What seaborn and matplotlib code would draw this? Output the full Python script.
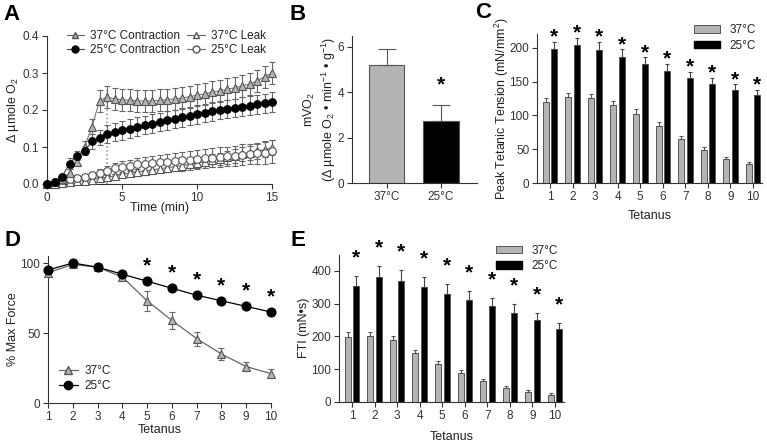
import numpy as np
import pandas as pd
import matplotlib
matplotlib.use("Agg")
import matplotlib.pyplot as plt
import seaborn as sns
from matplotlib.lines import Line2D
from matplotlib.patches import Patch

# ---- Panel A: delta umole O2 vs time ----
time_min = np.arange(0, 15.5, 0.5)
c37_contr = [0.000, 0.005, 0.013, 0.030, 0.060, 0.100, 0.155, 0.225, 0.235, 0.230, 0.228,
             0.226, 0.225, 0.224, 0.225, 0.226, 0.228, 0.230, 0.232, 0.236, 0.240, 0.243,
             0.248, 0.252, 0.256, 0.260, 0.265, 0.270, 0.278, 0.290, 0.300]
c37_contr_err = [0.000, 0.003, 0.005, 0.010, 0.012, 0.015, 0.020, 0.030, 0.030, 0.030, 0.030,
                 0.030, 0.030, 0.030, 0.030, 0.030, 0.030, 0.030, 0.030, 0.030, 0.030, 0.030,
                 0.030, 0.030, 0.030, 0.030, 0.030, 0.030, 0.030, 0.030, 0.030]
c25_contr = [0.000, 0.005, 0.020, 0.055, 0.077, 0.090, 0.115, 0.125, 0.135, 0.140, 0.145,
             0.150, 0.155, 0.160, 0.163, 0.167, 0.172, 0.176, 0.180, 0.184, 0.188, 0.192,
             0.196, 0.200, 0.203, 0.206, 0.209, 0.212, 0.215, 0.218, 0.222]
c25_contr_err = [0.000, 0.003, 0.006, 0.015, 0.012, 0.012, 0.020, 0.020, 0.025, 0.025, 0.025,
                 0.025, 0.025, 0.025, 0.025, 0.025, 0.025, 0.025, 0.025, 0.025, 0.025, 0.025,
                 0.025, 0.025, 0.025, 0.025, 0.025, 0.025, 0.025, 0.025, 0.028]
c37_leak = [0.000, 0.001, 0.003, 0.005, 0.007, 0.009, 0.012, 0.015, 0.018, 0.022, 0.026,
            0.029, 0.032, 0.035, 0.038, 0.041, 0.044, 0.047, 0.050, 0.053, 0.056, 0.060,
            0.064, 0.068, 0.072, 0.076, 0.080, 0.084, 0.088, 0.093, 0.098]
c37_leak_err = [0.000, 0.001, 0.002, 0.002, 0.003, 0.003, 0.004, 0.005, 0.005, 0.006, 0.007,
                0.008, 0.009, 0.010, 0.011, 0.012, 0.012, 0.013, 0.014, 0.015, 0.015, 0.016,
                0.017, 0.017, 0.018, 0.018, 0.019, 0.019, 0.020, 0.020, 0.020]
c25_leak = [0.000, 0.005, 0.010, 0.013, 0.017, 0.020, 0.024, 0.030, 0.036, 0.042, 0.046,
            0.050, 0.053, 0.055, 0.057, 0.059, 0.060, 0.062, 0.064, 0.066, 0.067, 0.069,
            0.071, 0.073, 0.075, 0.077, 0.079, 0.081, 0.083, 0.085, 0.088]
c25_leak_err = [0.000, 0.002, 0.004, 0.005, 0.006, 0.007, 0.008, 0.010, 0.012, 0.014, 0.015,
                0.016, 0.017, 0.018, 0.019, 0.020, 0.021, 0.022, 0.023, 0.024, 0.024, 0.025,
                0.025, 0.026, 0.026, 0.027, 0.028, 0.028, 0.029, 0.030, 0.030]
stim_end = 4
stim_line_top = 0.255

# ---- Panel B: mVO2 ----
temps = ['37°C', '25°C']
mvo2_mean = [5.2, 2.75]
mvo2_err = [0.7, 0.7]

# ---- Panel C / E: per tetanus ----
tetanus = ['1', '2', '3', '4', '5', '6', '7', '8', '9', '10']
tension_37 = [120, 127, 126, 116, 102, 84, 65, 49, 35, 28]
tension_37_err = [6, 6, 6, 6, 7, 6, 5, 4, 4, 3]
tension_25 = [198, 204, 197, 187, 176, 166, 156, 147, 138, 130]
tension_25_err = [11, 11, 12, 11, 10, 10, 9, 9, 8, 8]

fti_37 = [198, 200, 188, 151, 116, 88, 63, 44, 31, 22]
fti_37_err = [16, 14, 12, 9, 10, 9, 7, 6, 5, 4]
fti_25 = [354, 382, 370, 351, 331, 312, 293, 273, 249, 222]
fti_25_err = [32, 33, 33, 30, 28, 27, 25, 25, 22, 18]

# ---- Panel D: % max force ----
tet_num = [1, 2, 3, 4, 5, 6, 7, 8, 9, 10]
force_37 = [93, 99, 97, 90, 73, 59, 46, 35, 26, 21]
force_37_err = [2, 1, 1, 2, 7, 6, 5, 4, 3, 3]
force_25 = [95, 100, 97, 92, 87, 82, 77, 73, 69, 65]
force_25_err = [1, 1, 1, 1, 1, 1, 1, 1, 1, 1]
sig_D = [False, False, False, False, True, True, True, True, True, True]

GRAY = '#b4b4b4'
EDGE = '#555555'

sns.set_style("ticks")
plt.rcParams['font.family'] = ['Liberation Sans', 'DejaVu Sans']
plt.rcParams.update({
    'mathtext.fontset': 'custom',
    'mathtext.rm': 'Liberation Sans',
    'mathtext.it': 'Liberation Sans:italic',
    'mathtext.bf': 'Liberation Sans:bold',
    'font.size': 8.5,
    'axes.labelsize': 9,
    'xtick.labelsize': 8.5,
    'ytick.labelsize': 8.5,
    'axes.linewidth': 0.8,
    'xtick.major.width': 0.8,
    'ytick.major.width': 0.8,
    'xtick.major.size': 3.5,
    'ytick.major.size': 3.5,
    'xtick.major.pad': 2,
    'ytick.major.pad': 2,
    'axes.edgecolor': '#333333',
    'text.color': '#222222',
    'axes.labelcolor': '#222222',
    'xtick.color': '#333333',
    'ytick.color': '#333333',
})

W, H = 767, 445
fig = plt.figure(figsize=(W / 100, H / 100), dpi=100)


def add_ax(l, r, b, t):
    return fig.add_axes([l / W, 1 - b / H, (r - l) / W, (b - t) / H])


def star(ax, x, y, off):
    ax.annotate('*', xy=(x, y), xytext=(0, off), textcoords='offset points',
                ha='center', va='center', fontsize=15, fontweight='bold',
                color='black', annotation_clip=False)


# ================= A =================
axA = add_ax(47, 272, 184, 36)
series_A = [
    (c37_leak, c37_leak_err, '^', 'white', EDGE, '#666666'),
    (c25_leak, c25_leak_err, 'o', 'white', EDGE, '#666666'),
    (c37_contr, c37_contr_err, '^', GRAY, EDGE, '#777777'),
    (c25_contr, c25_contr_err, 'o', 'black', 'black', '#444444'),
]
for vals, err, mk, fc, ec, lc in series_A:
    axA.errorbar(time_min, vals, yerr=err, fmt='none', ecolor='#666666',
                 elinewidth=0.8, capsize=2.5, capthick=0.8, clip_on=False, zorder=2)
    sns.lineplot(x=time_min, y=vals, ax=axA, color=lc, lw=0.8, marker=mk,
                 markersize=5.5 if mk == 'o' else 6, markerfacecolor=fc,
                 markeredgecolor=ec, markeredgewidth=0.8, clip_on=False,
                 legend=False, zorder=3)
axA.vlines(stim_end, 0, stim_line_top, color='#888888', ls=':', lw=1.1, zorder=1)
axA.set_xlim(0, 15)
axA.set_ylim(0, 0.4)
axA.set_xticks([0, 5, 10, 15])
axA.set_yticks([0, 0.1, 0.2, 0.3, 0.4])
axA.set_yticklabels(['0.0', '0.1', '0.2', '0.3', '0.4'])
axA.set_xlabel('Time (min)', labelpad=-1)
axA.set_ylabel('Δ µmole O$_2$', labelpad=1)
legA = [
    Line2D([], [], color='#666666', lw=0.8, marker='^', ms=5, mfc=GRAY, mec=EDGE),
    Line2D([], [], color='#444444', lw=0.8, marker='o', ms=5, mfc='black', mec='black'),
    Line2D([], [], color='#666666', lw=0.8, marker='^', ms=5, mfc='white', mec=EDGE),
    Line2D([], [], color='#666666', lw=0.8, marker='o', ms=5, mfc='white', mec=EDGE),
]
axA.legend(legA, ['37°C Contraction', '25°C Contraction', '37°C Leak', '25°C Leak'],
           ncol=2, loc='upper center', bbox_to_anchor=(0.53, 1.11), frameon=False,
           handlelength=1.5, columnspacing=0.6, handletextpad=0.5, labelspacing=0.15,
           fontsize=8.5)

# ================= B =================
axB = add_ax(352, 477, 183, 35.6)
dfB = pd.DataFrame({'temp': temps, 'mvo2': mvo2_mean})
sns.barplot(data=dfB, x='temp', y='mvo2', hue='temp', palette=[GRAY, 'black'],
            width=0.66, edgecolor=EDGE, linewidth=0.8, errorbar=None, legend=False, ax=axB)
bars_B = [p for cont in axB.containers for p in cont]
xB = [p.get_x() + p.get_width() / 2 for p in bars_B]
axB.errorbar(xB, mvo2_mean, yerr=[[0, 0], mvo2_err], fmt='none', ecolor=EDGE,
             elinewidth=0.8, capsize=6.5, capthick=0.8, zorder=1)
star(axB, xB[1], mvo2_mean[1] + mvo2_err[1], 14)
axB.set_xlim(-0.64, 1.67)
axB.set_ylim(0, 6.5)
axB.set_yticks([0, 2, 4, 6])
axB.set_xlabel('')
axB.set_ylabel('mVO$_2$\n(Δ µmole O$_2$ • min$^{-1}$ • g$^{-1}$)', labelpad=0)


def paired_bars(ax, vals37, err37, vals25, err25, star_off, xpad):
    df = pd.DataFrame({
        'tetanus': tetanus * 2,
        'val': vals37 + vals25,
        'temp': ['37°C'] * len(tetanus) + ['25°C'] * len(tetanus),
    })
    sns.barplot(data=df, x='tetanus', y='val', hue='temp', hue_order=['37°C', '25°C'],
                palette=[GRAY, 'black'], width=0.76, gap=0.3, edgecolor=EDGE,
                linewidth=0.7, errorbar=None, ax=ax)
    for cont, vals, err, ecol in zip(ax.containers, [vals37, vals25], [err37, err25],
                                     [EDGE, '#444444']):
        xs = [p.get_x() + p.get_width() / 2 for p in cont]
        ax.errorbar(xs, vals, yerr=[[0] * len(err), err], fmt='none', ecolor=ecol,
                    elinewidth=0.8, capsize=1.5, capthick=0.8, zorder=1)
    xs25 = [p.get_x() + p.get_width() / 2 for p in ax.containers[1]]
    for x, v, e in zip(xs25, vals25, err25):
        star(ax, x, v + e, star_off)
    ax.set_xlim(-0.58, 9.4)
    ax.set_xlabel('Tetanus', labelpad=xpad)
    ax.legend([Patch(fc=GRAY, ec=EDGE, lw=0.7), Patch(fc='black', ec='black')],
              ['37°C', '25°C'], loc='upper right', bbox_to_anchor=(1.02, 1.14),
              frameon=False, handlelength=2.2, handleheight=0.6, handletextpad=0.8,
              labelspacing=0.3, fontsize=8.5)


# ================= C =================
axC = add_ax(537, 762, 183, 34.5)
paired_bars(axC, tension_37, tension_37_err, tension_25, tension_25_err, 3.5, 5)
axC.set_ylim(0, 220)
axC.set_yticks([0, 50, 100, 150, 200])
axC.set_ylabel('Peak Tetanic Tension (mN/mm$^2$)', labelpad=-1)

# ================= D =================
axD = add_ax(48, 271, 403, 256)
for vals, err, mk, fc, ec, lc in [
        (force_37, force_37_err, '^', GRAY, EDGE, '#666666'),
        (force_25, force_25_err, 'o', 'black', 'black', 'black')]:
    axD.errorbar(tet_num, vals, yerr=err, fmt='none', ecolor=lc, elinewidth=0.8,
                 capsize=2.5, capthick=0.8, clip_on=False, zorder=2)
    sns.lineplot(x=tet_num, y=vals, ax=axD, color=lc, lw=0.9, marker=mk,
                 markersize=6 if mk == '^' else 6.5, markerfacecolor=fc,
                 markeredgecolor=ec, markeredgewidth=0.8, clip_on=False,
                 legend=False, zorder=3)
for x, v, s in zip(tet_num, force_25, sig_D):
    if s:
        star(axD, x, v, 11)
axD.set_xlim(1, 10)
axD.set_ylim(0, 105)
axD.set_xticks(tet_num)
axD.set_yticks([0, 50, 100])
axD.set_xlabel('Tetanus', labelpad=1)
axD.set_ylabel('% Max Force', labelpad=1)
axD.legend([Line2D([], [], color='#666666', lw=0.9, marker='^', ms=6, mfc=GRAY, mec=EDGE),
            Line2D([], [], color='black', lw=0.9, marker='o', ms=6, mfc='black', mec='black')],
           ['37°C', '25°C'], loc='lower left', bbox_to_anchor=(0.0, 0.0), frameon=False,
           handlelength=1.6, handletextpad=0.6, labelspacing=0.3, fontsize=8.5)

# ================= E =================
axE = add_ax(339, 564, 402, 254.6)
paired_bars(axE, fti_37, fti_37_err, fti_25, fti_25_err, 13, 7)
axE.set_ylim(0, 450)
axE.set_yticks([0, 100, 200, 300, 400])
axE.set_ylabel('FTI (mN•s)', labelpad=1)

for ax in [axA, axB, axC, axD, axE]:
    sns.despine(ax=ax)

for lbl, x, y in [('A', 11, 14), ('B', 298, 14), ('C', 483, 13), ('D', 12, 240), ('E', 298, 240)]:
    fig.text(x / W, 1 - y / H, lbl, fontsize=16, fontweight='bold', ha='center',
             va='center', color='black')

fig.savefig('out.png', dpi=100)
